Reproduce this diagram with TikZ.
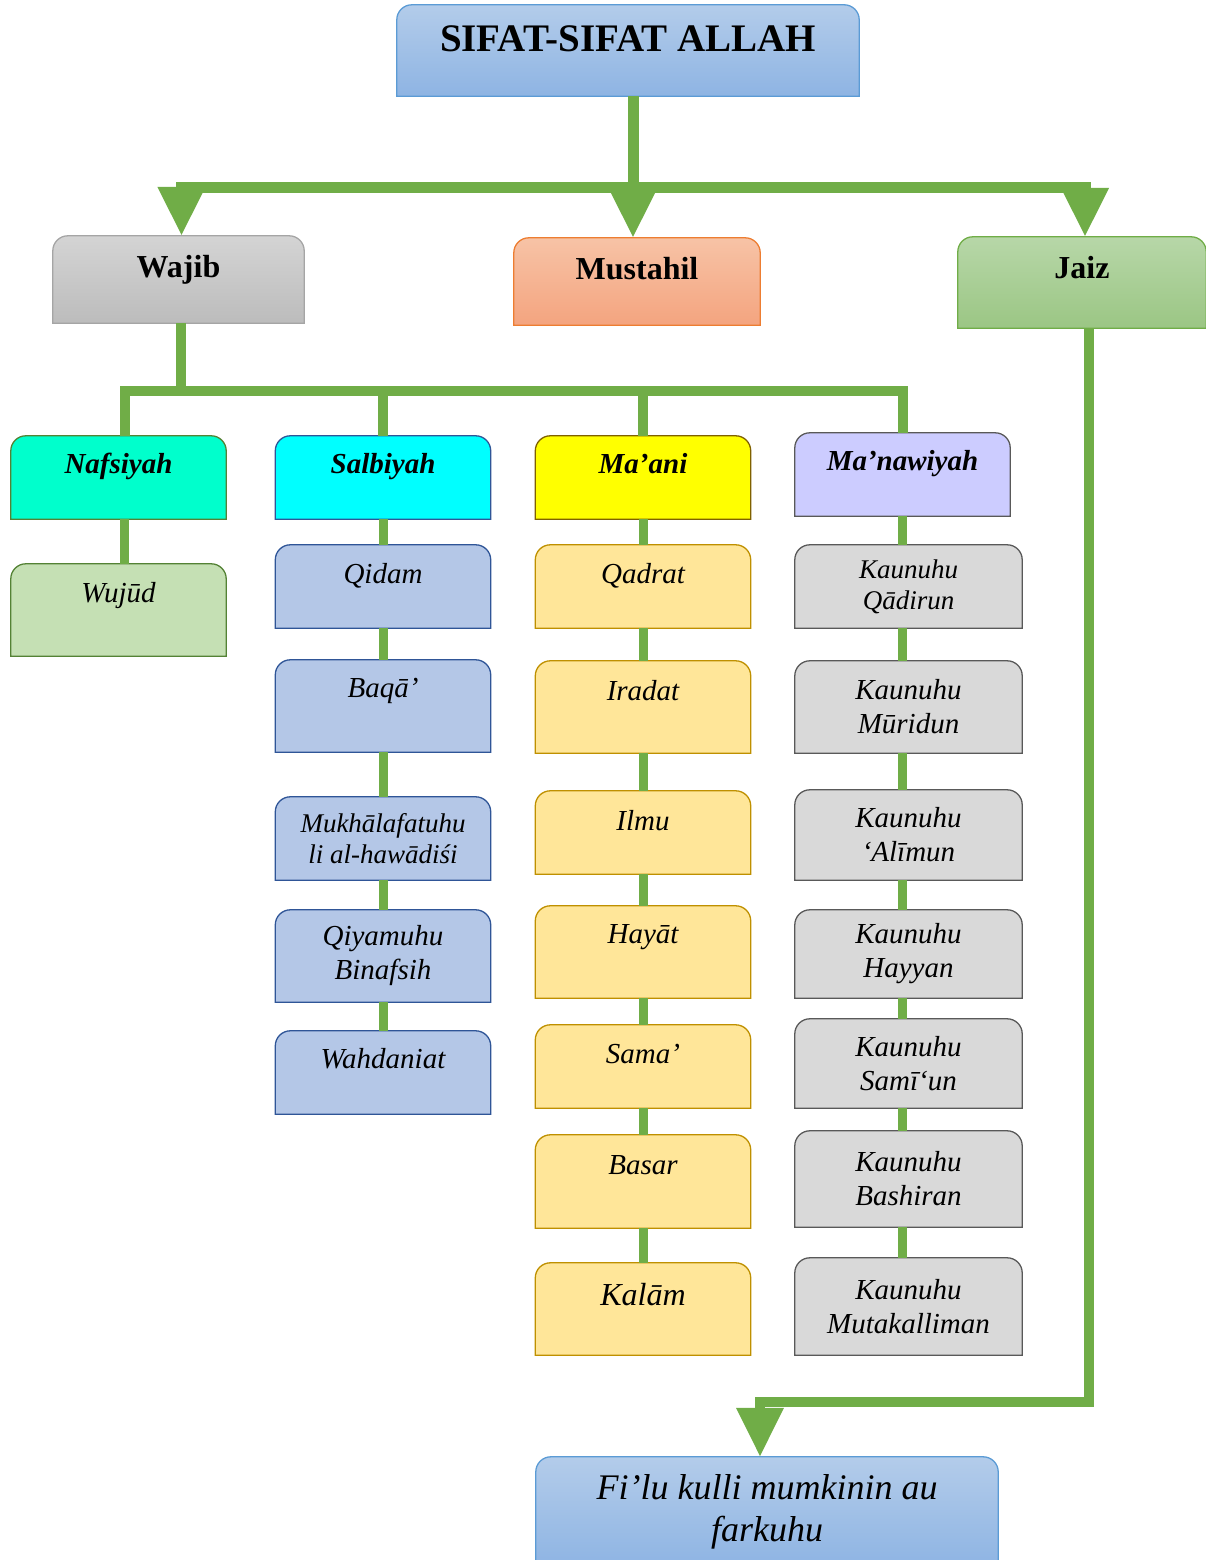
\documentclass[tikz,border=0pt]{standalone}
\usepackage{fontspec}
\setmainfont{Liberation Serif}
\usetikzlibrary{arrows.meta,backgrounds}

\definecolor{leaf}{HTML}{70AD47}
\definecolor{skyhi}{HTML}{B3CCEA}
\definecolor{skylo}{HTML}{8EB4E3}
\definecolor{skyline}{HTML}{5B9BD5}
\definecolor{greyhi}{HTML}{D4D4D4}
\definecolor{greylo}{HTML}{BCBCBC}
\definecolor{greyline}{HTML}{A5A5A5}
\definecolor{salmonhi}{HTML}{F7C3A6}
\definecolor{salmonlo}{HTML}{F4A47F}
\definecolor{salmonline}{HTML}{ED7D31}
\definecolor{greenhi}{HTML}{B7D7A8}
\definecolor{greenlo}{HTML}{9BC684}
\definecolor{tealfill}{HTML}{00FFCC}
\definecolor{darkleaf}{HTML}{548235}
\definecolor{sage}{HTML}{C5E0B4}
\definecolor{cyanfill}{HTML}{00FFFF}
\definecolor{navyline}{HTML}{2F5597}
\definecolor{bluefill}{HTML}{B4C7E7}
\definecolor{yellowfill}{HTML}{FFFF00}
\definecolor{oliveline}{HTML}{7F6000}
\definecolor{cream}{HTML}{FFE699}
\definecolor{goldline}{HTML}{BF9000}
\definecolor{lilac}{HTML}{CCCCFF}
\definecolor{slate}{HTML}{595959}
\definecolor{silver}{HTML}{D9D9D9}

\begin{document}
\begin{tikzpicture}[x=1pt,y=-1pt,>={Triangle[width=45pt,length=49pt]},
	tab/.style={inner sep=0pt,align=center,
		append after command={\pgfextra{\begin{pgfonlayer}{background}
			\path[line width=1.3pt,#1] (\tikzlastnode.south west) -- ([yshift=-15pt]\tikzlastnode.north west)
				arc[start angle=180,end angle=90,radius=15pt] -- ([xshift=-15pt]\tikzlastnode.north east)
				arc[start angle=90,end angle=0,radius=15pt] -- (\tikzlastnode.south east) -- cycle;
			\end{pgfonlayer}}}},
	oneline/.style 2 args={text height=#1,text depth=#2},
	skybox/.style={tab={top color=skyhi,bottom color=skylo,draw=skyline}},
	greybox/.style={tab={top color=greyhi,bottom color=greylo,draw=greyline}},
	salmonbox/.style={tab={top color=salmonhi,bottom color=salmonlo,draw=salmonline}},
	greenbox/.style={tab={top color=greenhi,bottom color=greenlo,draw=leaf}},
	tealbox/.style={tab={fill=tealfill,draw=darkleaf},minimum width=215pt},
	sagebox/.style={tab={fill=sage,draw=darkleaf},minimum width=215pt},
	cyanbox/.style={tab={fill=cyanfill,draw=navyline},minimum width=215pt},
	bluebox/.style={tab={fill=bluefill,draw=navyline},minimum width=215pt},
	yellowbox/.style={tab={fill=yellowfill,draw=oliveline},minimum width=215pt},
	creambox/.style={tab={fill=cream,draw=goldline},minimum width=215pt},
	lilacbox/.style={tab={fill=lilac,draw=slate},minimum width=215pt},
	silverbox/.style={tab={fill=silver,draw=slate},minimum width=227pt},
	kind/.style={font=\fontsize{32}{37}\selectfont\bfseries},
	group/.style={font=\fontsize{29}{34}\selectfont\bfseries\itshape},
	item/.style={font=\fontsize{29}{34}\selectfont\itshape},
	small/.style={font=\fontsize{27}{31}\selectfont\itshape},
	trunk/.style={draw=leaf,line width=11pt},
	bar/.style={draw=leaf,line width=10pt},
	stem/.style={draw=leaf,line width=9pt}]
	\useasboundingbox (0,0) rectangle (1205,1560);

	\node[skybox,minimum width=462pt,oneline={47pt}{44pt},font=\fontsize{39}{46}\selectfont\bfseries] (title) at (628,50.5) {SIFAT-SIFAT ALLAH};

	\node[greybox,minimum width=251pt,oneline={41pt}{46pt},kind] (wajib) at (178.5,279.5) {Wajib};
	\node[salmonbox,minimum width=246pt,oneline={41pt}{46pt},kind] (mustahil) at (637,281.5) {Mustahil};
	\node[greenbox,minimum width=248pt,oneline={41pt}{50pt},kind] (jaiz) at (1082,282.5) {Jaiz};

	\node[tealbox,oneline={37pt}{46pt},group] (nafsi) at (118.5,477.5) {Nafsiyah};
	\node[cyanbox,oneline={37pt}{46pt},group] (salbi) at (383,477.5) {Salbiyah};
	\node[yellowbox,oneline={37pt}{46pt},group] (maani) at (643,477.5) {Ma’ani};
	\node[lilacbox,oneline={37pt}{46pt},group] (manawi) at (902.5,474.5) {Ma’nawiyah};

	\node[sagebox,oneline={38pt}{54pt},item] (wujud) at (118.5,610) {Wujūd};

	\node[bluebox,oneline={38pt}{45pt},item] (qidam) at (383,586.5) {Qidam};
	\node[bluebox,oneline={37pt}{55pt},item] (baqa) at (383,706) {Baqā’};
	\node[bluebox,minimum height=83pt,small] (mukh) at (383,838.5) {Mukhālafatuhu\\li al-hawādiśi};
	\node[bluebox,minimum height=92pt,item] (qiyam) at (383,956) {Qiyamuhu\\Binafsih};
	\node[bluebox,oneline={37pt}{46pt},item] (wahda) at (383,1072.5) {Wahdaniat};

	\node[creambox,oneline={38pt}{45pt},item] (qadrat) at (643,586.5) {Qadrat};
	\node[creambox,oneline={39pt}{53pt},item] (iradat) at (643,707) {Iradat};
	\node[creambox,oneline={39pt}{44pt},item] (ilmu) at (643,832.5) {Ilmu};
	\node[creambox,oneline={37pt}{55pt},item] (hayat) at (643,952) {Hayāt};
	\node[creambox,oneline={38pt}{45pt},item] (sama) at (643,1066.5) {Sama’};
	\node[creambox,oneline={39pt}{54pt},item] (basar) at (643,1181.5) {Basar};
	\node[creambox,oneline={42pt}{50pt},font=\fontsize{32}{38}\selectfont\itshape] (kalam) at (643,1309) {Kalām};

	\node[silverbox,minimum height=83pt,small] (kqad) at (908.5,586.5) {Kaunuhu\\Qādirun};
	\node[silverbox,minimum height=92pt,item] (kmur) at (908.5,707) {Kaunuhu\\Mūridun};
	\node[silverbox,minimum height=90pt,item] (kali) at (908.5,835) {Kaunuhu\\‘Alīmun};
	\node[silverbox,minimum height=88pt,item] (khay) at (908.5,954) {Kaunuhu\\Hayyan};
	\node[silverbox,minimum height=89pt,item] (ksam) at (908.5,1063.5) {Kaunuhu\\Samī‘un};
	\node[silverbox,minimum height=96pt,item] (kbas) at (908.5,1179) {Kaunuhu\\Bashiran};
	\node[silverbox,minimum height=97pt,item] (kmut) at (908.5,1306.5) {Kaunuhu\\Mutakalliman};

	\node[skybox,minimum width=462pt,minimum height=110pt,font=\fontsize{36}{42}\selectfont\itshape] (filu) at (767,1512) {Fi’lu kulli mumkinin au\\farkuhu};

	\coordinate (fork) at (633,187);
	\coordinate (hub) at (181,391);
	\coordinate (elbow) at (1089,1402);

	\draw[trunk] (title.south -| fork) -- (fork);
	\draw[trunk,->] (fork) -| ([xshift=3pt]wajib.north);
	\draw[trunk,->] (fork) -- (fork |- mustahil.north);
	\draw[trunk,->] (fork) -| ([xshift=3pt]jaiz.north);

	\draw[bar] (wajib.south -| hub) -- (hub);
	\draw[bar] (hub) -| ([xshift=6pt]nafsi.north);
	\foreach \g in {salbi,maani,manawi}
		\draw[bar] (hub) -| (\g.north);

	\draw[stem] ([xshift=6pt]nafsi.south) -- ([xshift=6pt]wujud.north);
	\foreach \a/\b in {salbi/qidam,qidam/baqa,baqa/mukh,mukh/qiyam,qiyam/wahda,maani/qadrat,qadrat/iradat,iradat/ilmu,ilmu/hayat,hayat/sama,sama/basar,basar/kalam}
		\draw[stem] (\a.south) -- (\b.north);
	\foreach \a/\b in {manawi/kqad,kqad/kmur,kmur/kali,kali/khay,khay/ksam,ksam/kbas,kbas/kmut}
		\draw[stem] (\a.south -| manawi.center) -- (\b.north -| manawi.center);

	\draw[bar,->] (jaiz.south -| elbow) -- (elbow) -| ([xshift=-7pt]filu.north);
\end{tikzpicture}
\end{document}
